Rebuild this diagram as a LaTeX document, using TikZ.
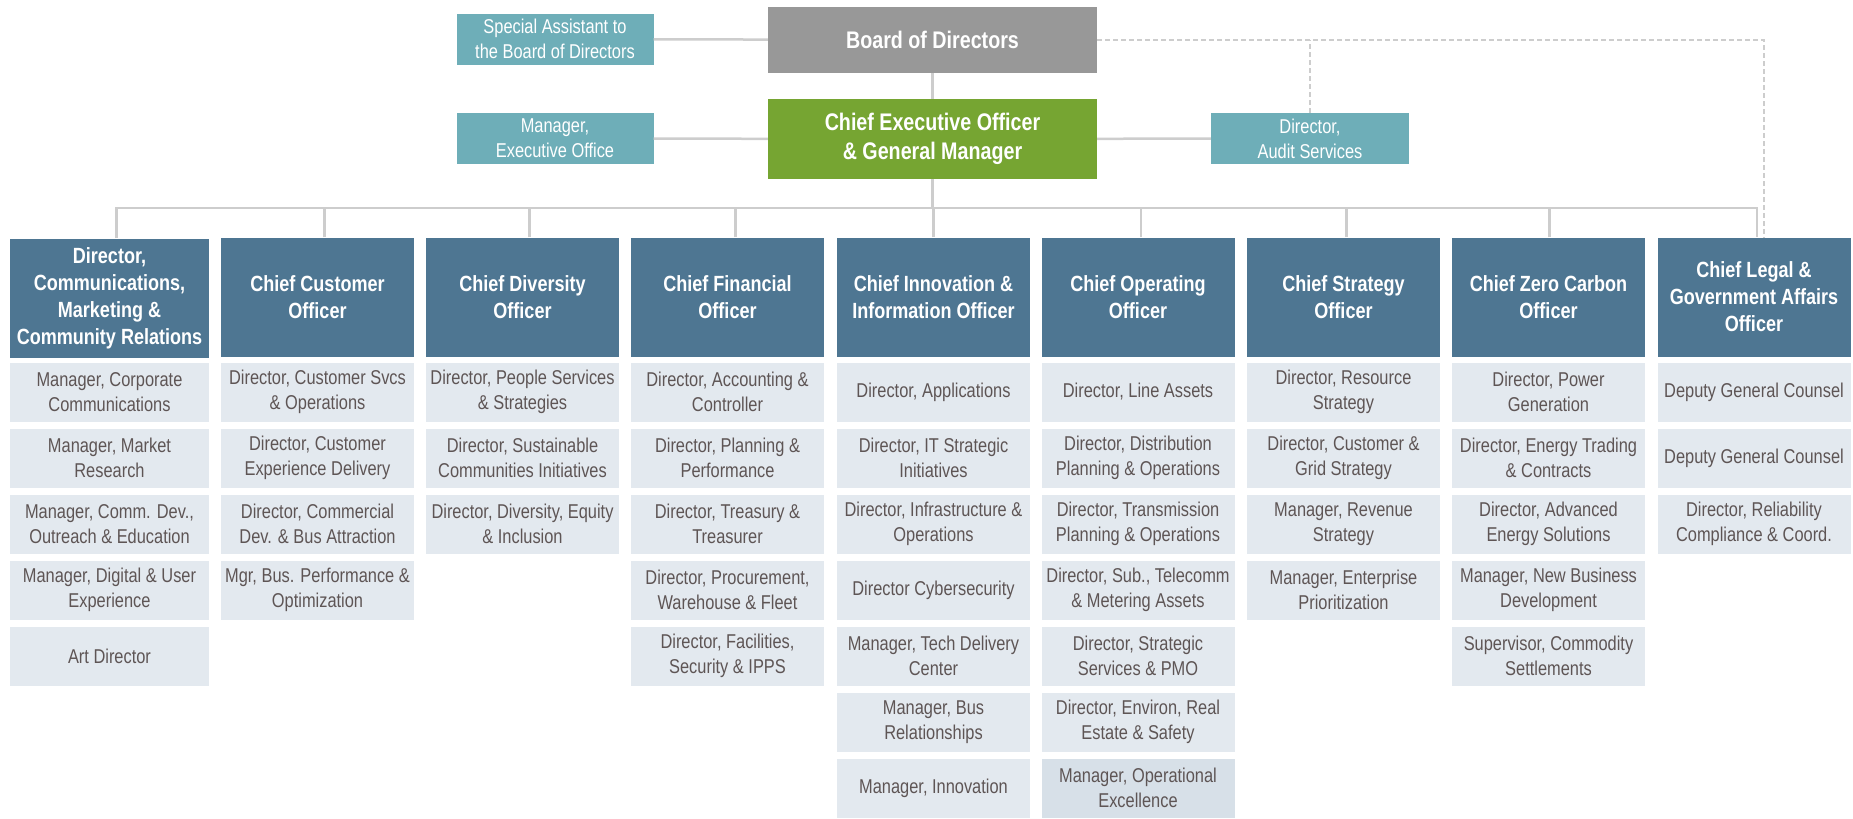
\documentclass[tikz,border=0pt]{standalone}
\usepackage{fontspec}
\setmainfont{Liberation Sans}[FakeStretch=0.82]

\definecolor{boardgray}{HTML}{989898}
\definecolor{ceogreen}{HTML}{76A532}
\definecolor{staffteal}{HTML}{6EAEB8}
\definecolor{chiefblue}{HTML}{4E7692}
\definecolor{unitgray}{HTML}{E3E9EF}
\definecolor{unittext}{HTML}{5E5555}
\definecolor{linegray}{HTML}{CDCDCD}

\tikzset{
	box/.style={rectangle,inner sep=0pt,align=center},
	board/.style={box,fill=boardgray,text=white,font=\bfseries\fontsize{24}{29}\selectfont,minimum width=329pt,minimum height=66pt},
	ceo/.style={box,fill=ceogreen,text=white,font=\bfseries\fontsize{24}{29}\selectfont,minimum width=329pt,minimum height=80pt},
	staff/.style={box,fill=staffteal,text=white,font=\fontsize{20}{25}\selectfont,minimum width=197pt,minimum height=51pt},
	chief/.style={box,fill=chiefblue,text=white,font=\bfseries\fontsize{22}{27}\selectfont,minimum width=193pt,minimum height=119pt},
	unit/.style={box,fill=unitgray,text=unittext,font=\fontsize{20}{25}\selectfont,minimum width=193pt,minimum height=59pt},
	orgline/.style={linegray,line width=2.5pt},
	dotline/.style={linegray,line width=2pt,dash pattern=on 5pt off 3pt}
}

\begin{document}
\begin{tikzpicture}[x=1pt,y=-1pt]
	\useasboundingbox (0,0) rectangle (1853,819);

	% top of the chart
	\node[board] (board) at (932.5,40) {Board of Directors};
	\node[ceo] (ceo) at (932.5,139) {Chief Executive Officer\\\& General Manager};
	\node[staff] (assist) at (555,39) {Special Assistant to\\the Board of Directors};
	\node[staff] (execoff) at (555,138.5) {Manager,\\Executive Office};
	\node[staff,minimum width=198pt] (audit) at (1310,138.5) {Director,\\Audit Services};
	\coordinate (bus) at (932.5,208);

	% chiefs
	\node[chief,minimum width=199pt] (c1) at (109.5,298) {Director,\\Communications,\\Marketing \&\\Community Relations};
	\node[chief] (c2) at (317.5,297) {Chief Customer\\Officer};
	\node[chief] (c3) at (522.5,297) {Chief Diversity\\Officer};
	\node[chief] (c4) at (727.5,297) {Chief Financial\\Officer};
	\node[chief] (c5) at (933.5,297) {Chief Innovation \&\\Information Officer};
	\node[chief] (c6) at (1138,297) {Chief Operating\\Officer};
	\node[chief] (c7) at (1343.5,297) {Chief Strategy\\Officer};
	\node[chief] (c8) at (1548.5,297) {Chief Zero Carbon\\Officer};
	\node[chief] (c9) at (1754,297) {Chief Legal \&\\Government Affairs\\Officer};

	% communications
	\node[unit,minimum width=199pt] (c1a) at (109.5,392) {Manager, Corporate\\Communications};
	\node[unit,minimum width=199pt] (c1b) at (109.5,458) {Manager, Market\\Research};
	\node[unit,minimum width=199pt] (c1c) at (109.5,524) {Manager, Comm. Dev.,\\Outreach \& Education};
	\node[unit,minimum width=199pt] (c1d) at (109.5,590) {Manager, Digital \& User\\Experience};
	\node[unit,minimum width=199pt] (c1e) at (109.5,656) {Art Director};

	% customer
	\node[unit] (c2a) at (317.5,392) {Director, Customer Svcs\\\& Operations};
	\node[unit] (c2b) at (317.5,458) {Director, Customer\\Experience Delivery};
	\node[unit] (c2c) at (317.5,524) {Director, Commercial\\Dev. \& Bus Attraction};
	\node[unit] (c2d) at (317.5,590) {Mgr, Bus. Performance \&\\Optimization};

	% diversity
	\node[unit] (c3a) at (522.5,392) {Director, People Services\\\& Strategies};
	\node[unit] (c3b) at (522.5,458) {Director, Sustainable\\Communities Initiatives};
	\node[unit] (c3c) at (522.5,524) {Director, Diversity, Equity\\\& Inclusion};

	% financial
	\node[unit] (c4a) at (727.5,392) {Director, Accounting \&\\Controller};
	\node[unit] (c4b) at (727.5,458) {Director, Planning \&\\Performance};
	\node[unit] (c4c) at (727.5,524) {Director, Treasury \&\\Treasurer};
	\node[unit] (c4d) at (727.5,590) {Director, Procurement,\\Warehouse \& Fleet};
	\node[unit] (c4e) at (727.5,656) {Director, Facilities,\\Security \& IPPS};

	% innovation
	\node[unit] (c5a) at (933.5,392) {Director, Applications};
	\node[unit] (c5b) at (933.5,458) {Director, IT Strategic\\Initiatives};
	\node[unit] (c5c) at (933.5,524) {Director, Infrastructure \&\\Operations};
	\node[unit] (c5d) at (933.5,590) {Director Cybersecurity};
	\node[unit] (c5e) at (933.5,656) {Manager, Tech Delivery\\Center};
	\node[unit] (c5f) at (933.5,722) {Manager, Bus\\Relationships};
	\node[unit] (c5g) at (933.5,788) {Manager, Innovation};

	% operating
	\node[unit] (c6a) at (1138,392) {Director, Line Assets};
	\node[unit] (c6b) at (1138,458) {Director, Distribution\\Planning \& Operations};
	\node[unit] (c6c) at (1138,524) {Director, Transmission\\Planning \& Operations};
	\node[unit] (c6d) at (1138,590) {Director, Sub., Telecomm\\\& Metering Assets};
	\node[unit] (c6e) at (1138,656) {Director, Strategic\\Services \& PMO};
	\node[unit] (c6f) at (1138,722) {Director, Environ, Real\\Estate \& Safety};
	\node[unit,fill=unitgray!92!chiefblue] (c6g) at (1138,788) {Manager, Operational\\Excellence};

	% strategy
	\node[unit] (c7a) at (1343.5,392) {Director, Resource\\Strategy};
	\node[unit] (c7b) at (1343.5,458) {Director, Customer \&\\Grid Strategy};
	\node[unit] (c7c) at (1343.5,524) {Manager, Revenue\\Strategy};
	\node[unit] (c7d) at (1343.5,590) {Manager, Enterprise\\Prioritization};

	% zero carbon
	\node[unit] (c8a) at (1548.5,392) {Director, Power\\Generation};
	\node[unit] (c8b) at (1548.5,458) {Director, Energy Trading\\\& Contracts};
	\node[unit] (c8c) at (1548.5,524) {Director, Advanced\\Energy Solutions};
	\node[unit] (c8d) at (1548.5,590) {Manager, New Business\\Development};
	\node[unit] (c8e) at (1548.5,656) {Supervisor, Commodity\\Settlements};

	% legal
	\node[unit] (c9a) at (1754,392) {Deputy General Counsel};
	\node[unit] (c9b) at (1754,458) {Deputy General Counsel};
	\node[unit] (c9c) at (1754,524) {Director, Reliability\\Compliance \& Coord.};

	% reporting lines
	\draw[orgline] (assist) -- (board);
	\draw[orgline] (board) -- (ceo);
	\draw[orgline] (execoff) -- (ceo);
	\draw[orgline] (ceo) -- (audit);
	\draw[orgline] (ceo) -- (bus);
	\draw[orgline] ([xshift=7pt]c1.north) |- (bus) -| ([xshift=3pt]c9.north);
	\draw[orgline] ([xshift=7pt]c2.north) -- ([xshift=7pt]c2.north |- bus);
	\draw[orgline] ([xshift=7pt]c3.north) -- ([xshift=7pt]c3.north |- bus);
	\draw[orgline] ([xshift=8pt]c4.north) -- ([xshift=8pt]c4.north |- bus);
	\draw[orgline] (c5.north) -- (c5.north |- bus);
	\draw[orgline] ([xshift=3pt]c6.north) -- ([xshift=3pt]c6.north |- bus);
	\draw[orgline] ([xshift=3pt]c7.north) -- ([xshift=3pt]c7.north |- bus);
	\draw[orgline] ([xshift=1pt]c8.north) -- ([xshift=1pt]c8.north |- bus);

	% dotted lines to the board
	\draw[dotline] (board.east) -| ([xshift=10pt]c9.north);
	\draw[dotline] (audit.north) -- (audit.north |- board.east);
\end{tikzpicture}
\end{document}
